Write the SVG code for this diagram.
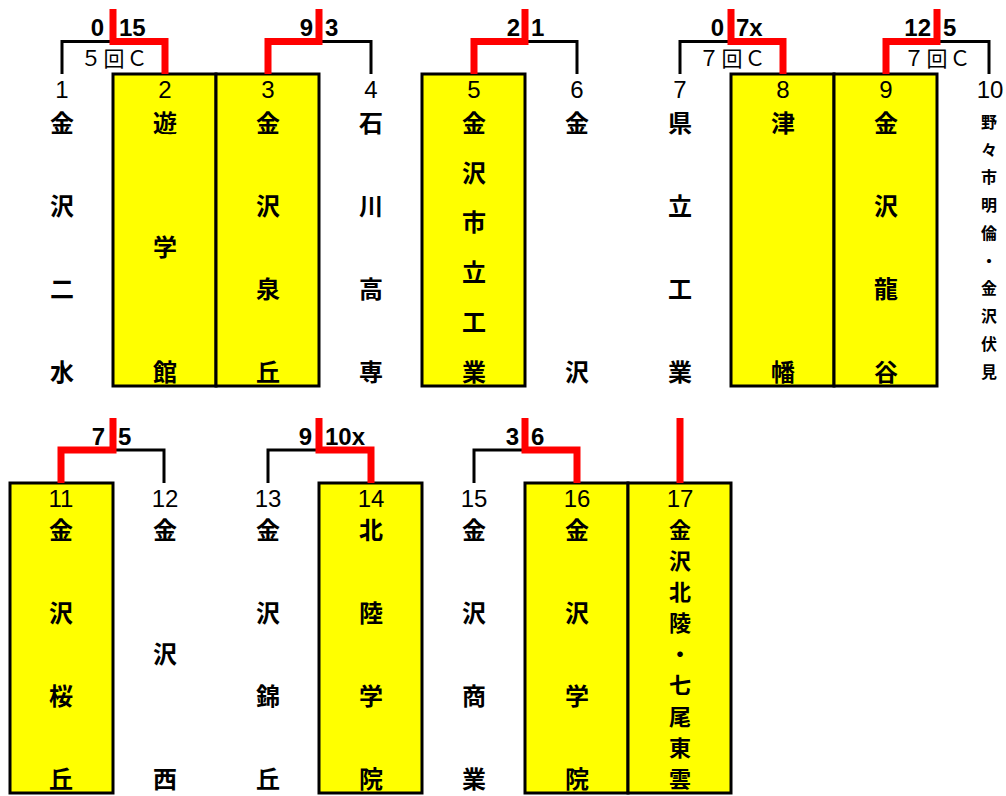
<svg xmlns="http://www.w3.org/2000/svg" width="1006" height="796" viewBox="0 0 1006 796">
<style>
.box{fill:#ffff00;stroke:#000;stroke-width:3}
.num{font-family:"Liberation Sans",Arial,sans-serif;font-size:24px;fill:#000;text-anchor:middle}
.nm{font-family:"Noto Sans CJK JP",sans-serif;font-weight:bold;font-size:24px;fill:#000;text-anchor:middle}
.n17{font-family:"Noto Sans CJK JP",sans-serif;font-weight:bold;font-size:22px;fill:#000;text-anchor:middle}
.sm{font-family:"Noto Sans CJK JP",sans-serif;font-weight:bold;font-size:16px;fill:#000;text-anchor:middle}
.sc{font-family:"Liberation Sans",Arial,sans-serif;font-weight:bold;font-size:24px;fill:#000}
.e{text-anchor:end}
.rc{font-family:"Noto Sans CJK JP",sans-serif;font-size:21px;letter-spacing:2px;fill:#000;text-anchor:middle}
.bk{fill:none;stroke:#000;stroke-width:3}
.rd{fill:none;stroke:#ff0000;stroke-width:7;stroke-linejoin:miter}
</style>
<rect width="1006" height="796" fill="#fff"/>
<g id="boxes">
<rect class="box" x="113" y="74" width="103" height="312"/>
<rect class="box" x="216" y="74" width="103" height="312"/>
<rect class="box" x="422" y="74" width="103" height="312"/>
<rect class="box" x="731" y="74" width="103" height="312"/>
<rect class="box" x="834" y="74" width="103" height="312"/>
<rect class="box" x="10" y="483" width="103" height="310"/>
<rect class="box" x="319" y="483" width="103" height="310"/>
<rect class="box" x="525" y="483" width="103" height="310"/>
<rect class="box" x="628" y="483" width="103" height="310"/>
</g>
<g id="connectors">
<path class="bk" d="M62,74 V41.5 H113"/>
<path class="rd" d="M113,9 V41.5 H165 V74"/>
<path class="bk" d="M319,41.5 H371 V74"/>
<path class="rd" d="M319,9 V41.5 H268 V74"/>
<path class="bk" d="M525,41.5 H577 V74"/>
<path class="rd" d="M525,9 V41.5 H474 V74"/>
<path class="bk" d="M680,74 V41.5 H731"/>
<path class="rd" d="M731,9 V41.5 H783 V74"/>
<path class="bk" d="M937,41.5 H989 V74"/>
<path class="rd" d="M937,9 V41.5 H886 V74"/>
<path class="bk" d="M113,450 H164 V483"/>
<path class="rd" d="M113,418 V450 H61 V483"/>
<path class="bk" d="M268,483 V450 H319"/>
<path class="rd" d="M319,418 V450 H371 V483"/>
<path class="bk" d="M474,483 V450 H525"/>
<path class="rd" d="M525,418 V450 H577 V483"/>
<path class="rd" d="M680,418 V483"/>
</g>
<g id="scores">
<text class="sc e" x="104" y="36">0</text><text class="sc" x="119" y="36">15</text>
<text class="sc e" x="313" y="36">9</text><text class="sc" x="325" y="36">3</text>
<text class="sc e" x="520" y="36">2</text><text class="sc" x="531" y="36">1</text>
<text class="sc e" x="724" y="36">0</text><text class="sc" x="736" y="36">7x</text>
<text class="sc e" x="931" y="36">12</text><text class="sc" x="943" y="36">5</text>
<text class="sc e" x="105" y="445">7</text><text class="sc" x="118" y="445">5</text>
<text class="sc e" x="312" y="445">9</text><text class="sc" x="325" y="445">10x</text>
<text class="sc e" x="519" y="445">3</text><text class="sc" x="531" y="445">6</text>
<text class="rc" x="115" y="66">５回Ｃ</text>
<text class="rc" x="733" y="66">７回Ｃ</text>
<text class="rc" x="938" y="66">７回Ｃ</text>
</g>
<g id="team1"><text class="num" x="62" y="98">1</text><text class="nm" x="62" y="132">金</text><text class="nm" x="62" y="215">沢</text><text class="nm" x="62" y="298">二</text><text class="nm" x="62" y="381">水</text></g>
<g id="team2"><text class="num" x="165" y="98">2</text><text class="nm" x="165" y="132">遊</text><text class="nm" x="165" y="256">学</text><text class="nm" x="165" y="381">館</text></g>
<g id="team3"><text class="num" x="268" y="98">3</text><text class="nm" x="268" y="132">金</text><text class="nm" x="268" y="215">沢</text><text class="nm" x="268" y="298">泉</text><text class="nm" x="268" y="381">丘</text></g>
<g id="team4"><text class="num" x="371" y="98">4</text><text class="nm" x="371" y="132">石</text><text class="nm" x="371" y="215">川</text><text class="nm" x="371" y="298">高</text><text class="nm" x="371" y="381">専</text></g>
<g id="team5"><text class="num" x="474" y="98">5</text><text class="nm" x="474" y="132">金</text><text class="nm" x="474" y="182">沢</text><text class="nm" x="474" y="231">市</text><text class="nm" x="474" y="281">立</text><text class="nm" x="474" y="331">工</text><text class="nm" x="474" y="381">業</text></g>
<g id="team6"><text class="num" x="577" y="98">6</text><text class="nm" x="577" y="132">金</text><text class="nm" x="577" y="381">沢</text></g>
<g id="team7"><text class="num" x="680" y="98">7</text><text class="nm" x="680" y="132">県</text><text class="nm" x="680" y="215">立</text><text class="nm" x="680" y="298">工</text><text class="nm" x="680" y="381">業</text></g>
<g id="team8"><text class="num" x="783" y="98">8</text><text class="nm" x="783" y="132">津</text><text class="nm" x="783" y="381">幡</text></g>
<g id="team9"><text class="num" x="886" y="98">9</text><text class="nm" x="886" y="132">金</text><text class="nm" x="886" y="215">沢</text><text class="nm" x="886" y="298">龍</text><text class="nm" x="886" y="381">谷</text></g>
<g id="team10"><text class="num" x="990" y="98">10</text>
<text class="sm" x="989" y="128">野</text><text class="sm" x="989" y="156">々</text><text class="sm" x="989" y="183">市</text><text class="sm" x="989" y="211">明</text><text class="sm" x="989" y="239">倫</text><text class="sm" x="989" y="267">・</text><text class="sm" x="989" y="294">金</text><text class="sm" x="989" y="322">沢</text><text class="sm" x="989" y="350">伏</text><text class="sm" x="989" y="378">見</text></g>
<g id="team11"><text class="num" x="61" y="507">11</text><text class="nm" x="61" y="539">金</text><text class="nm" x="61" y="622">沢</text><text class="nm" x="61" y="705">桜</text><text class="nm" x="61" y="788">丘</text></g>
<g id="team12"><text class="num" x="165" y="507">12</text><text class="nm" x="165" y="539">金</text><text class="nm" x="165" y="663">沢</text><text class="nm" x="165" y="788">西</text></g>
<g id="team13"><text class="num" x="268" y="507">13</text><text class="nm" x="268" y="539">金</text><text class="nm" x="268" y="622">沢</text><text class="nm" x="268" y="705">錦</text><text class="nm" x="268" y="788">丘</text></g>
<g id="team14"><text class="num" x="371" y="507">14</text><text class="nm" x="371" y="539">北</text><text class="nm" x="371" y="622">陸</text><text class="nm" x="371" y="705">学</text><text class="nm" x="371" y="788">院</text></g>
<g id="team15"><text class="num" x="474" y="507">15</text><text class="nm" x="474" y="539">金</text><text class="nm" x="474" y="622">沢</text><text class="nm" x="474" y="705">商</text><text class="nm" x="474" y="788">業</text></g>
<g id="team16"><text class="num" x="577" y="507">16</text><text class="nm" x="577" y="539">金</text><text class="nm" x="577" y="622">沢</text><text class="nm" x="577" y="705">学</text><text class="nm" x="577" y="788">院</text></g>
<g id="team17"><text class="num" x="680" y="507">17</text><text class="n17" x="680" y="538">金</text><text class="n17" x="680" y="569">沢</text><text class="n17" x="680" y="600">北</text><text class="n17" x="680" y="631">陵</text><text class="n17" x="680" y="662">・</text><text class="n17" x="680" y="693">七</text><text class="n17" x="680" y="725">尾</text><text class="n17" x="680" y="756">東</text><text class="n17" x="680" y="787">雲</text></g>
</svg>
